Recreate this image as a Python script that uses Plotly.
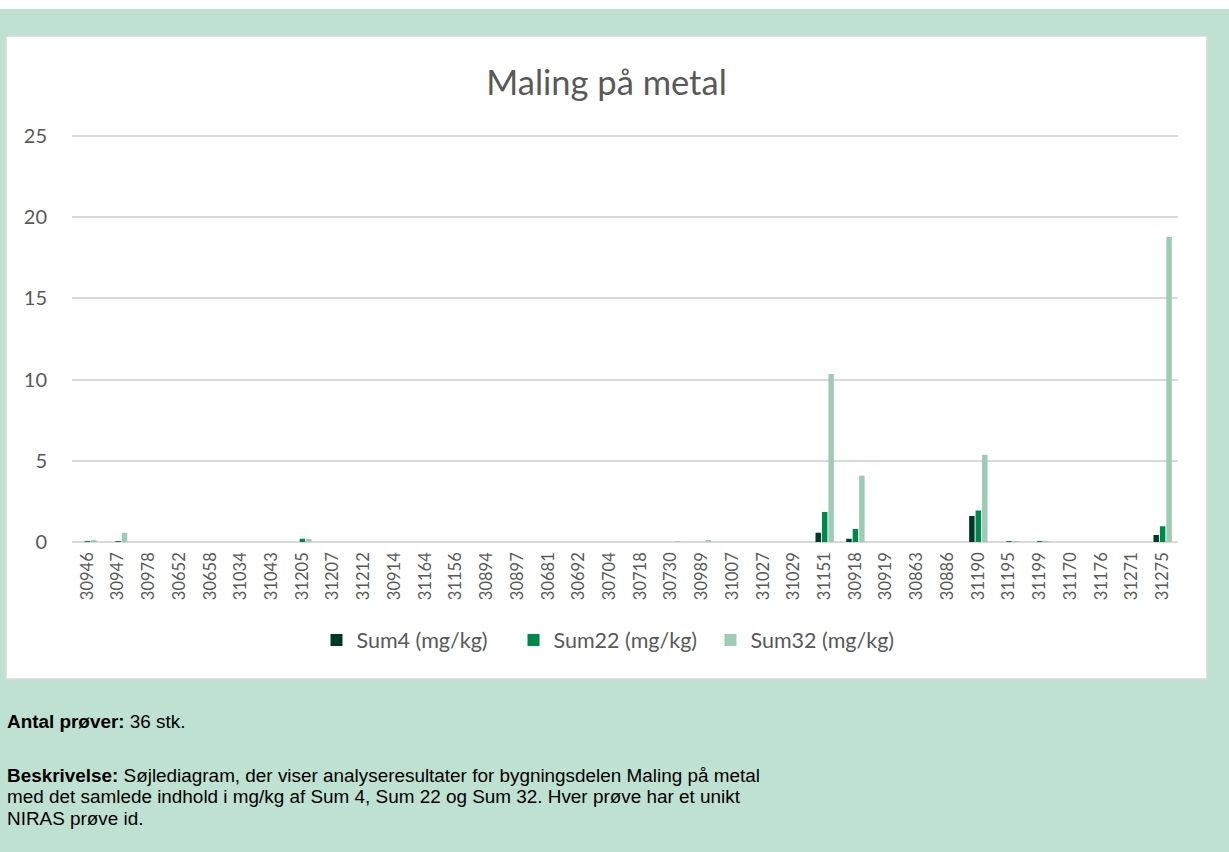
import plotly.graph_objects as go

# ---------------- data ----------------
sample_ids = ["30946", "30947", "30978", "30652", "30658", "31034", "31043", "31205",
              "31207", "31212", "30914", "31164", "31156", "30894", "30897", "30681",
              "30692", "30704", "30718", "30730", "30989", "31007", "31027", "31029",
              "31151", "30918", "30919", "30863", "30886", "31190", "31195", "31199",
              "31170", "31176", "31271", "31275"]

sum4 = [0, 0, 0, 0, 0, 0, 0, 0,
        0, 0, 0, 0, 0, 0, 0, 0,
        0, 0, 0, 0, 0, 0, 0, 0,
        0.57, 0.2, 0, 0, 0, 1.6, 0, 0,
        0, 0, 0, 0.43]

sum22 = [0.03, 0.03, 0, 0, 0, 0, 0, 0.2,
         0, 0, 0, 0, 0, 0, 0, 0,
         0, 0, 0, 0, 0, 0, 0, 0,
         1.85, 0.8, 0, 0, 0, 1.94, 0.02, 0.02,
         0, 0, 0, 0.97]

sum32 = [0.08, 0.57, 0, 0, 0, 0, 0, 0.18,
         0, 0, 0, 0, 0, 0, 0, 0,
         0, 0, 0, 0.04, 0.08, 0, 0, 0,
         10.34, 4.09, 0, 0, 0, 5.37, 0.03, 0.04,
         0, 0, 0, 18.78]

series_names = ["Sum4 (mg/kg)", "Sum22 (mg/kg)", "Sum32 (mg/kg)"]
series_colors = ["#00382a", "#00884b", "#9ecbb5"]
y_ticks = [0, 5, 10, 15, 20, 25]

title_text = "Maling på metal"
count_line = "<b>Antal prøver:</b> 36 stk."
desc_lines = [
    "<b>Beskrivelse:</b> Søjlediagram, der viser analyseresultater for bygningsdelen Maling på metal",
    "med det samlede indhold i mg/kg af Sum 4, Sum 22 og Sum 32. Hver prøve har et unikt",
    "NIRAS prøve id.",
]

# ---------------- layout geometry ----------------
W, H = 1229, 852
YMAX = 25.125                 # a little headroom so the top gridline at 25 is drawn
PL, PR, PB = 72, 1178, 542    # plot area in pixels
PT = 134


def px(x):
    return (x - PL) / (PR - PL)


def py(y):
    return (PB - y) / (PB - PT)


GREEN = "#bfe1d2"
TXT = "#595959"
FONT = "Lato"
BODY_FONT = dict(family="Liberation Sans", size=18.9, color="black")

fig = go.Figure()
for name, vals, col in zip(series_names, [sum4, sum22, sum32], series_colors):
    fig.add_trace(go.Bar(x=sample_ids, y=vals, name=name, marker_color=col,
                         marker_line_width=0))

shapes = [
    # white strip at top of page
    dict(type="rect", xref="paper", yref="paper", x0=px(0), x1=px(W), y0=py(0), y1=py(9),
         fillcolor="white", line_width=0, layer="below"),
    # chart box
    dict(type="rect", xref="paper", yref="paper", x0=px(6), x1=px(1207), y0=py(36), y1=py(679),
         fillcolor="white", line=dict(color="#d9d9d9", width=1.5), layer="below"),
]

annotations = [
    dict(text=count_line, xref="paper", yref="paper", x=px(5), y=py(721),
         xanchor="left", yanchor="middle", showarrow=False, align="left", font=BODY_FONT),
]
for i, line in enumerate(desc_lines):
    annotations.append(
        dict(text=line, xref="paper", yref="paper", x=px(5), y=py(775 + 21.5 * i),
             xanchor="left", yanchor="middle", showarrow=False, align="left", font=BODY_FONT))

fig.update_layout(
    width=W, height=H,
    margin=dict(l=PL, r=W - PR, t=PT, b=H - PB, pad=0),
    paper_bgcolor=GREEN,
    plot_bgcolor="white",
    font=dict(family=FONT, color=TXT),
    title=dict(text=title_text, x=606.5 / W, y=1 - 83 / H, xanchor="center", yanchor="middle",
               font=dict(family=FONT, size=34.5, color=TXT)),
    barmode="group",
    bargap=0.37,
    bargroupgap=0.15,
    showlegend=True,
    legend=dict(orientation="h", x=px(612), y=py(640), xanchor="center", yanchor="middle",
                font=dict(family=FONT, size=21.5, color=TXT), bgcolor="rgba(0,0,0,0)",
                traceorder="normal", entrywidth=152, entrywidthmode="pixels"),
    shapes=shapes,
    annotations=annotations,
)

fig.update_xaxes(type="category", tickangle=-90, tickfont=dict(family=FONT, size=16.5, color=TXT),
                 showgrid=False, showline=False, zeroline=False, ticks="", ticklabelstandoff=6)
fig.update_yaxes(range=[0, YMAX], tickvals=y_ticks, showgrid=True,
                 gridcolor="#d9d9d9", gridwidth=1.5,
                 zeroline=True, zerolinecolor="#d9d9d9", zerolinewidth=2, showline=False,
                 tickfont=dict(family=FONT, size=20, color=TXT), ticks="", ticklabelstandoff=24)

fig.write_html("out.html", config={"displayModeBar": False},
               post_script="document.body.style.margin='0';document.body.style.overflow='hidden';")
